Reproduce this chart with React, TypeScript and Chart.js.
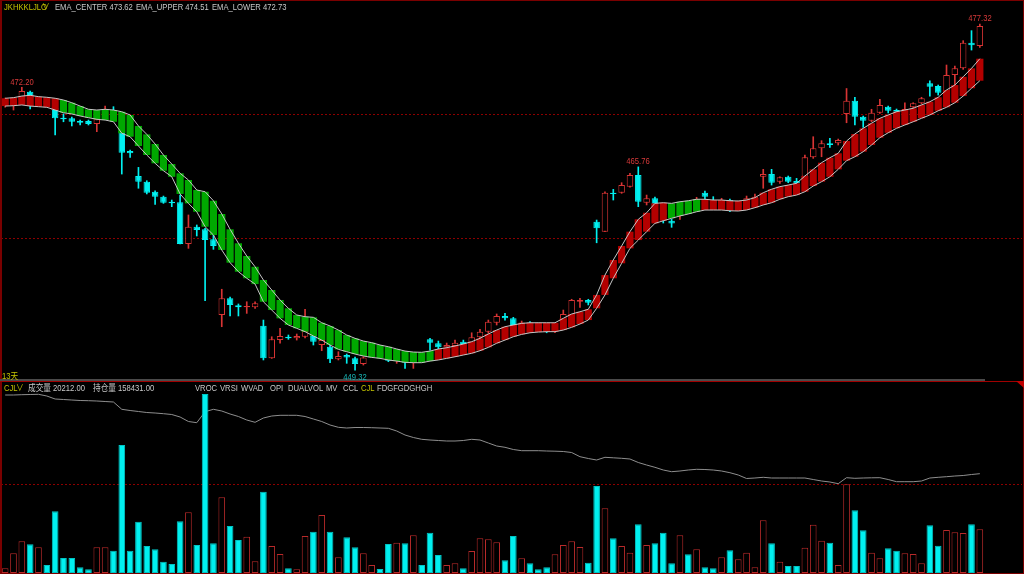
import React, { useEffect, useRef, useState } from 'react';
import { Chart, registerables } from 'chart.js';

Chart.register(...registerables);

// ---------- data ----------
const opens: number[] = [
  470.85, 470.85, 471.17, 471.84, 470.85, 471.09, 470.52, 469.74, 469.69, 469.47,
  469.47, 469.23, 469.87, 470.20, 468.66, 467.04, 465.02, 464.56, 463.75, 463.35,
  462.94, 462.89, 459.52, 460.92, 460.71, 459.90, 453.78, 455.13, 454.56, 454.40,
  454.40, 452.91, 450.27, 451.75, 452.02, 451.89, 452.02, 452.56, 451.35, 451.21,
  450.19, 450.54, 450.27, 449.81, 450.46, 450.78, 450.19, 450.30, 450.08, 450.14,
  450.46, 451.81, 451.49, 451.16, 451.27, 451.62, 451.54, 451.97, 452.42, 453.15,
  453.70, 453.51, 453.01, 453.17, 452.97, 452.89, 452.56, 453.37, 453.78, 454.85,
  454.99, 461.32, 460.52, 463.67, 463.67, 464.16, 465.10, 462.86, 463.22, 462.27,
  461.40, 461.95, 462.67, 462.43, 463.67, 463.08, 462.67, 463.08, 462.51, 463.02,
  463.14, 464.96, 465.18, 464.56, 464.96, 464.62, 464.96, 466.53, 467.26, 467.67,
  467.67, 470.04, 471.11, 469.82, 469.50, 470.14, 470.63, 470.36, 470.20, 470.58,
  470.90, 472.52, 472.30, 471.84, 473.19, 473.73, 475.81, 475.54,
];
const highs: number[] = [
  471.33, 471.33, 472.20, 471.90, 471.41, 471.25, 470.68, 470.04, 469.79, 469.55,
  469.55, 469.79, 470.68, 470.63, 468.90, 467.12, 465.72, 464.64, 463.83, 463.40,
  463.08, 463.48, 461.87, 461.06, 460.79, 460.25, 455.86, 455.23, 454.67, 454.85,
  454.85, 453.37, 452.02, 452.70, 452.16, 452.24, 454.24, 453.53, 452.08, 451.51,
  450.81, 450.62, 450.38, 450.40, 451.03, 450.94, 450.40, 450.78, 450.30, 450.62,
  450.62, 451.89, 451.67, 451.51, 451.75, 451.75, 452.34, 452.62, 453.37, 453.86,
  453.91, 453.59, 453.29, 453.25, 453.13, 453.05, 453.05, 454.18, 455.05, 455.13,
  455.05, 461.46, 463.75, 463.94, 464.48, 465.24, 465.76, 463.48, 463.32, 462.43,
  461.52, 462.67, 462.84, 463.30, 463.81, 463.35, 463.22, 463.16, 462.99, 463.40,
  463.57, 465.56, 465.56, 464.96, 465.02, 464.83, 466.72, 468.20, 467.88, 468.07,
  468.01, 472.10, 471.39, 469.87, 470.42, 471.23, 470.68, 470.44, 470.95, 470.95,
  471.39, 472.73, 472.38, 474.00, 473.92, 475.97, 476.78, 477.32,
];
const lows: number[] = [
  470.60, 470.36, 470.93, 470.44, 470.68, 470.68, 468.34, 469.41, 469.07, 469.15,
  469.15, 468.61, 469.71, 469.55, 465.18, 466.53, 464.03, 463.57, 462.73, 462.81,
  462.54, 459.52, 459.17, 460.17, 454.93, 459.09, 452.83, 453.70, 453.70, 453.91,
  454.32, 450.14, 450.27, 451.49, 451.81, 451.75, 451.92, 451.35, 450.89, 449.92,
  450.14, 449.87, 449.32, 449.73, 450.38, 450.30, 450.00, 449.87, 449.46, 449.46,
  450.05, 450.94, 450.94, 451.08, 451.16, 451.35, 451.49, 451.89, 452.30, 452.97,
  453.37, 452.89, 452.97, 452.89, 452.56, 452.34, 452.34, 453.23, 453.70, 454.40,
  454.59, 459.62, 460.52, 463.08, 463.62, 464.11, 462.54, 462.68, 462.13, 461.22,
  460.87, 461.52, 462.03, 462.27, 463.08, 462.59, 462.51, 462.13, 462.35, 462.92,
  463.08, 464.03, 464.29, 464.43, 464.48, 464.37, 464.83, 466.45, 466.58, 467.34,
  467.53, 469.33, 469.15, 468.96, 469.41, 470.09, 470.12, 470.12, 470.12, 470.52,
  470.85, 471.49, 471.57, 471.76, 472.25, 473.65, 475.21, 475.43,
];
const closes: number[] = [
  471.17, 471.17, 471.90, 471.33, 471.25, 470.85, 469.69, 469.61, 469.41, 469.33,
  469.23, 469.61, 470.20, 469.71, 466.91, 466.86, 464.56, 463.67, 463.35, 462.86,
  462.81, 459.52, 460.92, 460.65, 459.84, 459.36, 455.13, 454.59, 454.40, 454.50,
  454.72, 450.27, 451.81, 452.08, 451.89, 452.08, 452.48, 451.62, 451.75, 450.19,
  450.46, 450.35, 449.81, 450.35, 450.78, 450.46, 450.08, 450.54, 449.92, 450.46,
  450.14, 451.54, 451.16, 451.35, 451.54, 451.43, 451.97, 452.42, 453.23, 453.70,
  453.51, 452.97, 453.17, 453.05, 452.72, 452.64, 452.89, 453.86, 454.99, 454.99,
  454.77, 460.79, 463.67, 463.57, 464.29, 465.10, 462.94, 463.22, 462.59, 461.87,
  461.19, 462.27, 462.27, 462.84, 463.35, 462.84, 463.00, 462.94, 462.84, 463.22,
  463.35, 465.18, 464.48, 464.92, 464.56, 464.43, 466.53, 467.26, 467.67, 467.53,
  467.93, 471.11, 469.82, 469.50, 470.14, 470.77, 470.30, 470.22, 470.44, 470.90,
  471.31, 472.25, 471.76, 473.19, 473.73, 475.81, 475.60, 477.16,
];
const emaUpper: number[] = [
  471.31, 471.36, 471.49, 471.55, 471.44, 471.39, 471.31, 471.17, 470.95, 470.68,
  470.42, 470.36, 470.42, 470.36, 470.22, 469.96, 469.07, 468.39, 467.61, 466.72,
  465.99, 465.24, 464.70, 463.89, 463.75, 463.02, 461.95, 460.71, 459.58, 458.55,
  457.68, 456.61, 455.80, 454.99, 454.32, 453.78, 453.64, 453.59, 453.15, 452.89,
  452.56, 452.16, 451.89, 451.67, 451.54, 451.35, 451.21, 451.03, 450.86, 450.78,
  450.76, 450.86, 451.03, 451.13, 451.27, 451.43, 451.62, 451.89, 452.24, 452.56,
  452.83, 452.97, 453.10, 453.15, 453.15, 453.15, 453.15, 453.51, 453.86, 454.04,
  454.24, 455.40, 457.01, 458.23, 459.36, 460.52, 461.52, 462.05, 462.81, 462.86,
  462.81, 462.94, 463.02, 463.14, 463.14, 463.08, 463.08, 463.02, 463.00, 463.08,
  463.27, 463.67, 463.95, 464.16, 464.29, 464.43, 465.02, 465.56, 466.10, 466.50,
  466.86, 467.85, 468.42, 468.88, 469.29, 469.69, 469.96, 470.22, 470.36, 470.50,
  470.77, 471.03, 471.39, 471.98, 472.38, 473.05, 473.73, 474.51,
];
const emaLower: number[] = [
  470.68, 470.71, 470.77, 470.68, 470.63, 470.58, 470.36, 470.14, 470.04, 469.88,
  469.74, 469.61, 469.55, 469.41, 468.48, 468.20, 467.45, 466.72, 466.05, 465.45,
  464.96, 463.57, 462.81, 462.13, 460.92, 460.25, 459.04, 458.01, 457.28, 456.75,
  456.28, 454.85, 454.18, 453.51, 452.97, 452.70, 452.43, 452.08, 451.75, 451.35,
  451.00, 450.81, 450.62, 450.46, 450.35, 450.27, 450.14, 450.05, 449.95, 449.92,
  449.92, 450.05, 450.14, 450.27, 450.40, 450.54, 450.68, 450.89, 451.16, 451.49,
  451.75, 452.02, 452.21, 452.34, 452.40, 452.43, 452.43, 452.56, 452.78, 453.05,
  453.37, 454.32, 455.40, 456.75, 457.96, 459.17, 459.84, 460.52, 461.19, 461.40,
  461.60, 461.79, 461.95, 462.13, 462.27, 462.27, 462.27, 462.21, 462.19, 462.27,
  462.46, 462.68, 462.86, 463.14, 463.35, 463.48, 463.75, 464.21, 464.56, 464.96,
  465.56, 466.26, 466.58, 466.99, 467.53, 468.12, 468.52, 468.88, 469.15, 469.41,
  469.69, 469.96, 470.30, 470.58, 470.95, 471.49, 472.12, 472.73,
];
const bandTrend: number[] = [
  1, 1, 1, 1, 1, 1, 1, -1, -1, -1,
  -1, -1, -1, -1, -1, -1, -1, -1, -1, -1,
  -1, -1, -1, -1, -1, -1, -1, -1, -1, -1,
  -1, -1, -1, -1, -1, -1, -1, -1, -1, -1,
  -1, -1, -1, -1, -1, -1, -1, -1, -1, -1,
  -1, -1, 1, 1, 1, 1, 1, 1, 1, 1,
  1, 1, 1, 1, 1, 1, 1, 1, 1, 1,
  1, 1, 1, 1, 1, 1, 1, 1, 1, 1,
  -1, -1, -1, -1, 1, 1, 1, 1, 1, 1,
  1, 1, 1, 1, 1, 1, 1, 1, 1, 1,
  1, 1, 1, 1, 1, 1, 1, 1, 1, 1,
  1, 1, 1, 1, 1, 1, 1, 1,
];
const volumes: number[] = [
  2170, 9110, 14660, 13270, 11890, 3700, 28540, 6940, 6940, 2640,
  1710, 11890, 11890, 10310, 59200, 10310, 23730, 12490, 10960, 5230,
  4160, 23910, 28070, 12950, 82790, 13740, 35010, 21740, 15260, 16790,
  5410, 37600, 12490, 8790, 2170, 1710, 17110, 19100, 26830, 19100,
  7260, 16510, 11890, 9110, 3700, 1850, 13410, 14010, 13740, 17440,
  3700, 18640, 8330, 3700, 4490, 2170, 10180, 16050, 15590, 14200,
  5870, 17110, 6800, 4490, 1710, 2640, 8650, 12950, 14660, 12030,
  4760, 40240, 29920, 16050, 12490, 9390, 22520, 12950, 13740, 18640,
  4490, 17440, 8650, 10960, 2640, 2170, 7260, 10500, 6340, 9390,
  2640, 24370, 13740, 5230, 3240, 3240, 11700, 22340, 14940, 14010,
  3700, 41020, 29000, 19750, 9390, 6800, 11420, 10310, 9110, 8790,
  4490, 22060, 12630, 19890, 18820, 18500, 22520, 20212,
];
const openInterest: number[] = [
  174171, 174171, 174231, 174271, 174311, 173971, 173371, 173271, 173171, 173071,
  173031, 172971, 172871, 172771, 171311, 171071, 170871, 170671, 170571, 170431,
  170271, 169771, 168871, 168631, 170831, 171311, 170971, 170371, 169871, 169171,
  168711, 169571, 169971, 170111, 170111, 170111, 169871, 169371, 168871, 168171,
  167711, 167571, 167671, 167671, 167631, 167571, 167511, 166971, 166171, 165671,
  165311, 165171, 165071, 164971, 164971, 165071, 165311, 165171, 164571, 163971,
  163711, 163271, 163031, 163031, 163031, 162971, 162931, 162871, 162671, 161831,
  161471, 161171, 161711, 161611, 161511, 161371, 160671, 160171, 159711, 159171,
  158831, 158971, 159171, 159311, 159271, 159171, 158971, 158631, 158171, 157471,
  157571, 157711, 157571, 157571, 157571, 157571, 157571, 157271, 156971, 156771,
  156431, 157631, 157511, 157571, 157611, 157631, 157271, 156831, 156831, 156831,
  156971, 157571, 157711, 157831, 157971, 158071, 158271, 158431,
];
const categories: string[] = opens.map((_, i) => `K${i + 1}`);
const priceGridLines: number[] = [460, 470];
const highMarks: number[] = [2, 76, 117];
const lowMarks: number[] = [42];
const indicatorNames: string[] = ['VROC', 'VRSI', 'WVAD', 'OPI', 'DUALVOL', 'MV', 'CCL', 'CJL', 'FDGFGDGHGH'];

// ---------- styles ----------
const RED = '#d83434';
const VOL_RED = '#b82a2a';
const CYAN = '#00f0f0';
const BAND_RED = '#b40000';
const BAND_GREEN = '#00a800';
const YELLOW = '#c4c400';
const GREY_TEXT = '#c8c8c8';
const FRAME = '#7a0000';
const CANVAS_LEFT = 1;
const CANVAS_W = 1021;

const dashPlugin = (id: string, scaleId: string, getValues: () => number[], color: string) => ({
  id,
  beforeDatasetsDraw(chart: any) {
    const { ctx } = chart;
    const s = chart.scales[scaleId];
    ctx.save();
    ctx.strokeStyle = color;
    ctx.lineWidth = 1;
    ctx.setLineDash([2, 2]);
    getValues().forEach((v) => {
      const y = Math.round(s.getPixelForValue(v)) + 0.5;
      ctx.beginPath();
      ctx.moveTo(0, y);
      ctx.lineTo(chart.width, y);
      ctx.stroke();
    });
    ctx.restore();
  },
});

type Mark = { x: number; y: number; text: string; color: string };

const Txt = ({ x, y, color, children, center }: any) => (
  <div
    style={{
      position: 'absolute',
      left: x,
      top: y,
      color,
      font: '9px "Liberation Sans", "Noto Sans CJK SC", "DejaVu Sans", sans-serif',
      lineHeight: '12px',
      whiteSpace: 'nowrap',
      transform: center ? 'translateX(-50%) scaleX(0.85)' : 'scaleX(0.85)',
      transformOrigin: center ? 'center center' : 'left center',
    }}
  >
    {children}
  </div>
);

export default function App() {
  const mainRef = useRef<HTMLCanvasElement>(null);
  const volRef = useRef<HTMLCanvasElement>(null);
  const [marks, setMarks] = useState<Mark[]>([]);

  useEffect(() => {
    document.body.style.margin = '0';
    document.body.style.background = '#000';
    const up = opens.map((o, i) => closes[i] >= o);

    const main = new Chart(mainRef.current as HTMLCanvasElement, {
      type: 'bar',
      data: {
        labels: categories,
        datasets: [
          { type: 'line', data: emaUpper, borderColor: '#c6c6c6', borderWidth: 1, pointRadius: 0, tension: 0, order: 0 } as any,
          { type: 'line', data: emaLower, borderColor: '#c6c6c6', borderWidth: 1, pointRadius: 0, tension: 0, order: 0 } as any,
          {
            type: 'bar',
            data: emaLower.map((l, i) => [l, emaUpper[i]]),
            backgroundColor: bandTrend.map((t) => (t > 0 ? BAND_RED : BAND_GREEN)),
            borderWidth: 0,
            barPercentage: 0.86,
            categoryPercentage: 1,
            grouped: false,
            order: 1,
          } as any,
          {
            type: 'bar',
            data: opens.map((o, i) => [Math.min(o, closes[i]), Math.max(o, closes[i])]),
            backgroundColor: up.map((u) => (u ? '#000000' : CYAN)),
            borderColor: up.map((u) => (u ? RED : CYAN)),
            borderWidth: 1,
            borderSkipped: false,
            barPercentage: 0.78,
            categoryPercentage: 1,
            minBarLength: 1,
            grouped: false,
            order: 2,
          } as any,
          {
            type: 'bar',
            data: lows.map((l, i) => [l, highs[i]]),
            backgroundColor: up.map((u) => (u ? RED : CYAN)),
            borderWidth: 0,
            barThickness: 1,
            grouped: false,
            order: 3,
          } as any,
        ],
      },
      options: {
        responsive: false,
        animation: false,
        events: [],
        layout: { padding: { left: 0, right: 38, top: 0, bottom: 0 } },
        plugins: { legend: { display: false }, tooltip: { enabled: false } },
        scales: {
          x: { display: false, offset: true },
          y: { display: false, min: 448.52, max: 479.26 },
        },
      } as any,
      plugins: [dashPlugin('mainDash', 'y', () => priceGridLines, '#8c0000')],
    });

    const vol = new Chart(volRef.current as HTMLCanvasElement, {
      type: 'bar',
      data: {
        labels: categories,
        datasets: [
          {
            type: 'bar',
            data: volumes,
            yAxisID: 'y',
            backgroundColor: up.map((u) => (u ? '#000000' : CYAN)),
            borderColor: up.map((u) => (u ? VOL_RED : '#00c4c4')),
            borderWidth: 1,
            borderSkipped: false,
            barPercentage: 0.8,
            categoryPercentage: 1,
            order: 0,
          } as any,
          {
            type: 'line',
            data: openInterest,
            yAxisID: 'oi',
            borderColor: '#8e8e8e',
            borderWidth: 1,
            pointRadius: 0,
            tension: 0,
            order: 1,
          } as any,
        ],
      },
      options: {
        responsive: false,
        animation: false,
        events: [],
        layout: { padding: { left: 0, right: 38, top: 0, bottom: 0 } },
        plugins: { legend: { display: false }, tooltip: { enabled: false } },
        scales: {
          x: { display: false, offset: true },
          y: { display: false, min: 0, max: 87900 },
          oi: { display: false, min: 138571, max: 176571, position: 'right' },
        },
      } as any,
      plugins: [dashPlugin('volDash', 'y', () => [Math.max(...volumes) / 2], '#8c0000')],
    });

    const xs = main.scales.x;
    const ys = main.scales.y;
    setMarks([
      ...highMarks.map((i) => ({
        x: xs.getPixelForValue(i) + CANVAS_LEFT,
        y: ys.getPixelForValue(highs[i]) - 11.5,
        text: highs[i].toFixed(2),
        color: '#d83a3a',
      })),
      ...lowMarks.map((i) => ({
        x: xs.getPixelForValue(i) + CANVAS_LEFT,
        y: ys.getPixelForValue(lows[i]) + 1,
        text: lows[i].toFixed(2),
        color: '#18b4b4',
      })),
    ]);

    return () => {
      main.destroy();
      vol.destroy();
    };
  }, []);

  const last = emaUpper.length - 1;
  const center = ((emaUpper[last] + emaLower[last]) / 2).toFixed(2);
  const indicatorX = [195, 220, 241, 270, 288, 326, 343, 361, 377];

  return (
    <div style={{ position: 'fixed', left: 0, top: 0, width: 1024, height: 574, background: '#000', overflow: 'hidden' }}>
      <canvas ref={mainRef} width={CANVAS_W} height={380} style={{ position: 'absolute', left: CANVAS_LEFT, top: 0 }} />
      <canvas ref={volRef} width={CANVAS_W} height={190} style={{ position: 'absolute', left: CANVAS_LEFT, top: 383 }} />

      {/* frame */}
      <div style={{ position: 'absolute', left: 0, top: 0, width: 1024, height: 1, background: FRAME }} />
      <div style={{ position: 'absolute', left: 0, top: 0, width: 2, height: 574, background: FRAME }} />
      <div style={{ position: 'absolute', left: 1023, top: 0, width: 1, height: 574, background: FRAME }} />
      <div style={{ position: 'absolute', left: 0, top: 573, width: 1024, height: 1, background: FRAME }} />
      <div style={{ position: 'absolute', left: 0, top: 379, width: 985, height: 2, background: '#4a4a4a' }} />
      <div style={{ position: 'absolute', left: 0, top: 381, width: 1024, height: 1, background: '#a00000' }} />
      <div
        style={{
          position: 'absolute',
          left: 1016,
          top: 381,
          width: 0,
          height: 0,
          borderLeft: '8px solid transparent',
          borderTop: '7px solid #c00000',
        }}
      />

      {/* main header */}
      <Txt x={4} y={1} color={YELLOW}>JKHKKLJLO</Txt>
      <Txt x={42} y={1} color={YELLOW}>∨</Txt>
      <Txt x={55} y={1} color={GREY_TEXT}>{`EMA_CENTER ${center}`}</Txt>
      <Txt x={136} y={1} color={GREY_TEXT}>{`EMA_UPPER ${emaUpper[last].toFixed(2)}`}</Txt>
      <Txt x={212} y={1} color={GREY_TEXT}>{`EMA_LOWER ${emaLower[last].toFixed(2)}`}</Txt>

      <Txt x={2} y={370} color={YELLOW}>13天</Txt>

      {/* lower header */}
      <Txt x={4} y={381.5} color={YELLOW}>CJL</Txt>
      <Txt x={16} y={381.5} color={YELLOW}>∨</Txt>
      <Txt x={28} y={381.5} color={GREY_TEXT}>{`成交量 ${volumes[last].toFixed(2)}`}</Txt>
      <Txt x={93} y={381.5} color={GREY_TEXT}>{`持仓量 ${openInterest[last].toFixed(2)}`}</Txt>
      {indicatorNames.map((n, k) => (
        <Txt key={n + k} x={indicatorX[k]} y={381.5} color={n === 'CJL' ? YELLOW : GREY_TEXT}>
          {n}
        </Txt>
      ))}

      {marks.map((m, k) => (
        <Txt key={k} x={m.x} y={m.y} color={m.color} center>
          {m.text}
        </Txt>
      ))}
    </div>
  );
}
